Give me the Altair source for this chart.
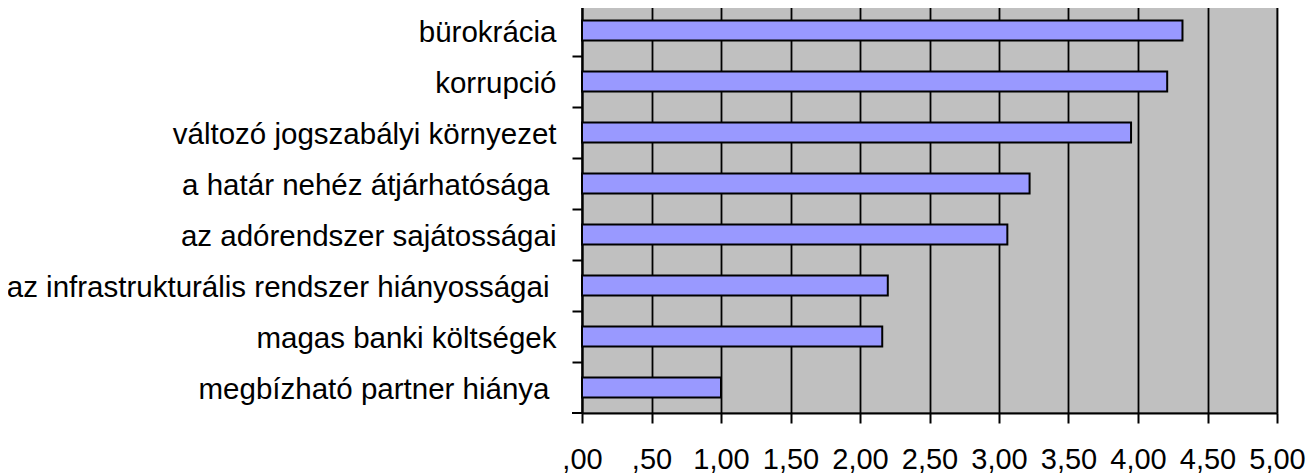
import altair as alt
import pandas as pd

categories = [
    "bürokrácia",
    "korrupció",
    "változó jogszabályi környezet",
    "a határ nehéz átjárhatósága",
    "az adórendszer sajátosságai",
    "az infrastrukturális rendszer hiányosságai",
    "magas banki költségek",
    "megbízható partner hiánya",
]
values = [4.32, 4.21, 3.95, 3.22, 3.06, 2.20, 2.16, 1.00]
x_ticks = [0, 0.5, 1, 1.5, 2, 2.5, 3, 3.5, 4, 4.5, 5]
# labels that carry a trailing space in the original
trailing_space_labels = [
    "a határ nehéz átjárhatósága",
    "az infrastrukturális rendszer hiányosságai",
    "megbízható partner hiánya",
]

df = pd.DataFrame({"cat": categories, "val": values})

FONT = "Liberation Sans"

label_expr = (
    "datum.value < 1 ? replace(format(datum.value, '.2f'), '0.', ',') "
    ": replace(format(datum.value, '.2f'), '.', ',')"
)

trail_test = "indexof([" + ",".join("'" + s + "'" for s in trailing_space_labels) + "], datum.value) >= 0"

base = alt.Chart(df)

bars = base.mark_bar(
    size=20, color="#9999FF", stroke="#000000", strokeWidth=2
).encode(
    x=alt.X(
        "val:Q",
        scale=alt.Scale(domain=[0, 5], nice=False, zero=True),
        axis=alt.Axis(
            values=x_ticks,
            title=None,
            labelExpr=label_expr,
            grid=True,
            gridColor="#000000",
            gridWidth=1.8,
            gridOpacity=1,
            domainColor="#000000",
            domainWidth=2,
            tickColor="#000000",
            tickWidth=2,
            tickSize=10,
            labelFont=FONT,
            labelFontSize=29,
            labelColor="#000000",
            labelPadding=22,
            labelFlush=False,
            labelOverlap=False,
        ),
    ),
    y=alt.Y(
        "cat:N",
        sort=None,
        scale=alt.Scale(paddingInner=0, paddingOuter=0),
        axis=alt.Axis(
            title=None,
            bandPosition=0,
            grid=False,
            domainColor="#000000",
            domainWidth=2,
            tickColor="#000000",
            tickWidth=2,
            tickSize=10,
            labelFont=FONT,
            labelFontSize=29.5,
            labelColor="#000000",
            labelPadding={"condition": {"test": trail_test, "value": 23}, "value": 16},
            labelOffset=2,
            labelAlign="right",
            labelBaseline="middle",
            labelOverlap=False,
            labelLimit=0,
        ),
    ),
)

# labels sit at band centres while ticks sit on band edges
bottom_tick = alt.Chart(pd.DataFrame({"a": [0]})).mark_rule(
    color="#000000", strokeWidth=2
).encode(x=alt.value(-10), x2=alt.value(0), y=alt.value(408))

chart = alt.layer(bars, bottom_tick).properties(
    width=695,
    height=408,
    autosize=alt.AutoSizeParams(type="none"),
    padding={"left": 574, "top": -3, "right": 30, "bottom": 60},
).configure_view(
    fill="#C0C0C0", stroke="#808080", strokeWidth=2
)

chart.save("out.html", embed_options={"renderer": "svg", "actions": False})
